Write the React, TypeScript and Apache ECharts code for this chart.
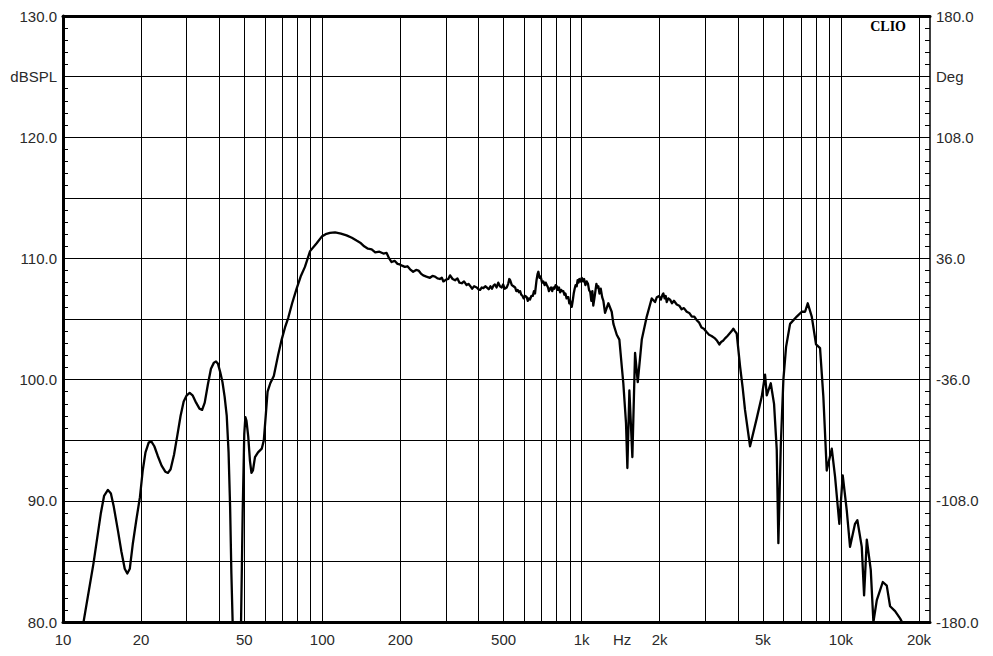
import React, { useEffect, useRef } from "react";
import * as echarts from "echarts";

// Frequency response (Hz, dB SPL)
const freqHz = [
  12.0, 13.1, 14.0, 14.4, 14.9, 15.3, 15.7, 16.3, 16.8, 17.3, 17.7, 18.1, 18.6, 19.2, 19.8, 20.3, 20.8, 21.4, 21.9,
  22.5, 23.2, 24.0, 24.8, 25.4, 26.0, 26.8, 27.6, 28.4, 29.2, 30.0, 30.8, 31.6, 32.6, 33.6, 34.4, 35.2, 36.2, 37.2,
  38.2, 38.9, 39.6, 40.4, 41.2, 42.0, 42.8, 43.5, 44.1, 44.6, 45.1, 46.0, 48.0, 48.6, 49.3, 50.0, 50.5, 51.0, 51.8,
  52.6, 53.3, 54.0, 55.0, 56.5, 58.4, 59.5, 60.5, 61.5, 63.0, 65.0, 67.5, 69.7, 71.8, 73.9, 76.5, 79.6, 82.5, 85.7,
  89.7, 95.1, 99.5, 103, 107, 112, 118, 124, 130, 136, 140, 145, 150, 155, 160, 166, 172, 177, 181, 185, 190, 195,
  199, 203, 208, 213, 218, 224, 230, 235, 240, 245, 252, 260, 266, 272, 278, 284, 289, 293, 300, 306, 311, 318, 325,
  332, 338, 345, 352, 360, 366, 371, 378, 385, 394, 400, 406, 412, 418, 425, 431, 438, 445, 451, 457, 463, 470, 477,
  484, 492, 498, 505, 514, 521, 526, 530, 538, 546, 554, 560, 567, 573, 579, 585, 592, 598, 606, 614, 620, 626, 632,
  640, 648, 655, 661, 670, 676, 681, 688, 695, 704, 712, 720, 727, 734, 742, 748, 755, 762, 770, 778, 786, 794, 802,
  810, 818, 826, 834, 842, 850, 858, 866, 875, 882, 889, 896, 903, 910, 916, 924, 932, 940, 948, 957, 965, 972, 980,
  990, 1001, 1012, 1022, 1034, 1046, 1058, 1068, 1080, 1090, 1100, 1109, 1120, 1130, 1140, 1150, 1160, 1172, 1185,
  1200, 1213, 1231, 1268, 1306, 1326, 1366, 1398, 1428, 1448, 1483, 1501, 1528, 1569, 1607, 1646, 1706, 1783, 1836,
  1864, 1919, 1950, 1989, 2020, 2050, 2066, 2090, 2110, 2129, 2160, 2193, 2230, 2270, 2327, 2380, 2430, 2480, 2543,
  2600, 2660, 2720, 2779, 2840, 2900, 2960, 3038, 3100, 3170, 3269, 3330, 3396, 3450, 3510, 3573, 3650, 3720, 3790,
  3846, 3900, 3963, 4083, 4180, 4266, 4461, 4734, 4950, 5098, 5175, 5362, 5521, 5655, 5737, 5860, 5998, 6143, 6365,
  6755, 7061, 7272, 7447, 7717, 8017, 8306, 8553, 8815, 9216, 9490, 9858, 10160, 10530, 10840, 11330, 11570, 12030,
  12280, 12580, 13030, 13340, 13750, 14500, 15020, 15470, 16170, 16900, 17200,
];
const splDb = [
  80.0, 84.8, 89.0, 90.4, 90.9, 90.6, 89.5, 87.5, 85.8, 84.4, 84.0, 84.4, 86.5, 88.5, 90.3, 92.5, 94.0, 94.8, 94.9,
  94.5, 93.7, 92.9, 92.4, 92.3, 92.6, 93.8, 95.4, 97.0, 98.2, 98.7, 98.9, 98.7, 98.1, 97.6, 97.5, 98.1, 99.6, 100.9,
  101.4, 101.5, 101.3, 100.6, 99.8, 98.6, 97.0, 94.0, 89.5, 84.0, 80.0, 74, 74, 80.0, 89.0, 95.5, 96.9, 96.6, 95.3,
  93.3, 92.3, 92.5, 93.6, 94.0, 94.3, 95.0, 97.0, 99.0, 99.7, 100.3, 102.0, 103.3, 104.3, 105.1, 106.3, 107.5, 108.5, 109.3,
  110.6, 111.25, 111.8, 112.0, 112.1, 112.15, 112.05, 111.9, 111.7, 111.45, 111.3, 111.0, 110.8, 110.75, 110.5, 110.55, 110.4, 110.45, 110.0, 109.7, 109.8, 109.55,
  109.5, 109.4, 109.3, 109.35, 109.1, 108.9, 109.05, 109.0, 108.75, 108.6, 108.5, 108.4, 108.55, 108.5, 108.35, 108.3, 108.4, 108.1, 108.25, 108.3, 108.6, 108.3, 108.2,
  108.35, 108.0, 107.95, 108.1, 107.8, 107.9, 107.75, 107.5, 107.7, 107.6, 107.45, 107.4, 107.6, 107.55, 107.7, 107.6, 107.45, 107.7, 107.5, 107.75, 107.85, 107.6, 108.0,
  107.7, 107.6, 107.85, 107.5, 107.6, 107.9, 108.3, 108.2, 107.8, 107.7, 107.6, 107.3, 107.4, 107.2, 107.3, 107.0, 106.9, 106.7, 106.9, 106.8, 106.5, 106.7, 106.6,
  106.9, 106.9, 107.3, 107.1, 108.2, 108.7, 108.9, 108.4, 108.5, 108.0, 108.1, 107.8, 108.0, 107.8, 107.6, 107.3, 107.5, 107.6, 107.3, 107.6, 107.5, 107.8, 107.7,
  107.4, 107.6, 107.2, 107.4, 107.3, 107.3, 107.0, 107.1, 106.7, 106.8, 106.8, 106.3, 106.5, 106.1, 106.0, 106.5, 107.1, 107.5, 107.8, 107.7, 108.2, 108.0, 108.3,
  108.1, 108.4, 108.1, 108.3, 107.8, 108.1, 107.9, 107.4, 107.2, 106.5, 107.3, 106.1, 106.7, 107.3, 107.9, 107.6, 107.7, 107.1, 107.5,
  106.8, 106.5, 105.5, 106.3, 105.6, 104.6, 103.7, 103.3, 101.1, 99.7, 96.4, 92.7, 99.1, 93.6, 102.2, 99.8, 103.3, 105.2, 106.2,
  106.7, 106.4, 106.8, 106.9, 106.6, 107.0, 107.1, 106.7, 106.9, 106.4, 106.7, 106.6, 106.3, 106.5, 106.2, 106.1, 105.8, 105.9, 105.6,
  105.5, 105.2, 105.2, 104.9, 104.7, 104.3, 104.2, 103.9, 103.7, 103.6, 103.4, 103.2, 102.9, 103.1, 103.2, 103.4, 103.6, 103.8, 104.0,
  104.2, 104.0, 103.8, 101.1, 99.3, 97.5, 94.5, 96.8, 98.6, 100.4, 98.7, 99.7, 98.0, 94.2, 86.5, 94.5, 100.0, 102.7, 104.6,
  105.2, 105.6, 105.6, 106.3, 105.2, 102.9, 102.6, 98.6, 92.5, 94.3, 92.0, 88.1, 92.1, 89.2, 86.2, 88.1, 88.4, 86.2,
  82.2, 86.8, 84.3, 80.0, 81.8, 83.3, 83.0, 81.3, 80.9, 80.3, 80.0,
];

// Axis definitions
const freqMinHz = 10;
const freqMaxHz = 22050;
const gridFreqs = [
  10, 20, 30, 40, 50, 60, 70, 80, 90, 100, 200, 300, 400, 500, 600, 700, 800, 900, 1000,
  2000, 3000, 4000, 5000, 6000, 7000, 8000, 9000, 10000, 20000,
];
const freqLabelValues = [10, 20, 50, 100, 200, 500, 1000, 1432, 2000, 5000, 10000, 20000];
const freqLabelTexts = ["10", "20", "50", "100", "200", "500", "1k", "Hz", "2k", "5k", "10k", "20k"];

const dbMin = 80;
const dbMax = 130;
const dbStep = 5;
const dbLabelValues = [80, 90, 100, 110, 120, 130];
const dbUnit = "dBSPL";
const dbUnitAt = 125;

const degMin = -180;
const degMax = 180;
const degStep = 36;
const degLabelValues = [-180, -108, -36, 36, 108, 180];
const degUnit = "Deg";
const degUnitAt = 144;

const brandText = "CLIO";

export default function App() {
  const ref = useRef<HTMLDivElement>(null);

  useEffect(() => {
    if (!ref.current) return;
    const chart = echarts.init(ref.current, undefined, { renderer: "svg" });
    const lg = (v: number) => Math.log10(v);
    const near = (a: number, b: number) => Math.abs(a - b) < 1e-6;
    const labelFont = {
      fontFamily: "Liberation Sans, Arial, sans-serif",
      fontSize: 15,
      color: "#2a2a2a",
    };

    const option: any = {
      animation: false,
      backgroundColor: "#ffffff",
      title: {
        text: brandText,
        right: 87,
        top: 19,
        padding: 0,
        textStyle: {
          fontFamily: "Liberation Serif, Times New Roman, serif",
          fontWeight: "bold",
          fontSize: 14,
          color: "#000",
        },
      },
      grid: { left: 63, top: 16, width: 867, height: 606, containLabel: false },
      xAxis: [
        {
          type: "value",
          min: lg(freqMinHz),
          max: lg(freqMaxHz),
          axisLine: { show: true, onZero: false, lineStyle: { color: "#000", width: 3 } },
          axisTick: { show: false, customValues: gridFreqs.map(lg) },
          splitLine: { show: true, lineStyle: { color: "#000", width: 1 } },
          axisLabel: {
            ...labelFont,
            margin: 10,
            customValues: freqLabelValues.map(lg),
            formatter: (v: number) => {
              const i = freqLabelValues.findIndex((f) => near(lg(f), v));
              return i >= 0 ? freqLabelTexts[i] : "";
            },
          },
        },
        {
          type: "value",
          position: "top",
          min: lg(freqMinHz),
          max: lg(freqMaxHz),
          axisLine: { show: true, onZero: false, lineStyle: { color: "#000", width: 3 } },
          axisTick: { show: false },
          axisLabel: { show: false },
          splitLine: { show: false },
        },
      ],
      yAxis: [
        {
          type: "value",
          min: dbMin,
          max: dbMax,
          interval: dbStep,
          axisLine: { show: true, onZero: false, lineStyle: { color: "#000", width: 3 } },
          axisTick: { show: true, inside: true, length: 5, lineStyle: { color: "#000" } },
          minorTick: { show: true, splitNumber: 5, length: 5, lineStyle: { color: "#000" } },
          splitLine: { show: true, lineStyle: { color: "#000", width: 1 } },
          axisLabel: {
            ...labelFont,
            margin: 6,
            formatter: (v: number) =>
              dbLabelValues.includes(v) ? v.toFixed(1) : v === dbUnitAt ? dbUnit : "",
          },
        },
        {
          type: "value",
          position: "right",
          min: degMin,
          max: degMax,
          interval: degStep,
          axisLine: { show: true, onZero: false, lineStyle: { color: "#000", width: 1.5 } },
          axisTick: { show: true, inside: true, length: 5, lineStyle: { color: "#000" } },
          minorTick: { show: true, splitNumber: 5, length: 5, lineStyle: { color: "#000" } },
          splitLine: { show: false },
          axisLabel: {
            ...labelFont,
            margin: 6,
            formatter: (v: number) =>
              degLabelValues.includes(v) ? v.toFixed(1) : v === degUnitAt ? degUnit : "",
          },
        },
      ],
      series: [
        {
          type: "line",
          xAxisIndex: 0,
          yAxisIndex: 0,
          data: freqHz.map((f, i) => [lg(f), splDb[i]]),
          showSymbol: false,
          symbol: "none",
          clip: true,
          lineStyle: { color: "#000", width: 2.3, join: "round" },
        },
      ],
    };
    chart.setOption(option);
    return () => chart.dispose();
  }, []);

  return (
    <div
      ref={ref}
      style={{ position: "fixed", left: 0, top: 0, width: 993, height: 656, background: "#fff" }}
    />
  );
}
